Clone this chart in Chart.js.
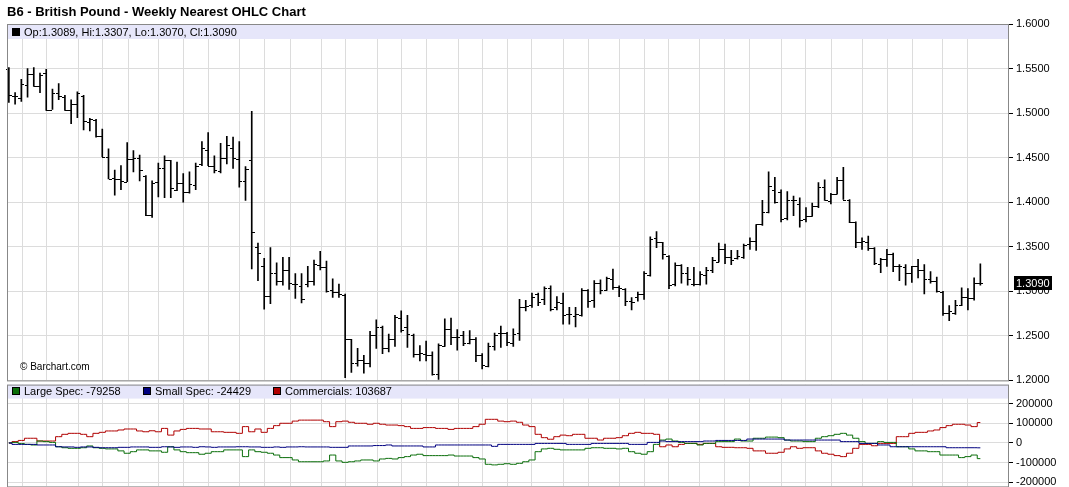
<!DOCTYPE html>
<html><head><meta charset="utf-8">
<script src="https://cdn.jsdelivr.net/npm/chart.js@4/dist/chart.umd.min.js"></script>
<style>
html,body{margin:0;padding:0;background:#fff;width:1069px;height:487px;overflow:hidden;font-family:"Liberation Sans",Arial,sans-serif}
#c1{position:absolute;left:0;top:0}
#c2{position:absolute;left:0;top:375px}
.t{position:absolute;white-space:nowrap;color:#000}
.sq{display:inline-block;width:8px;height:8px;margin-right:4px;vertical-align:0px;border:1px solid #000;box-sizing:border-box}
</style></head><body>
<canvas id="c1" width="1069" height="390"></canvas>
<canvas id="c2" width="1069" height="121"></canvas>
<div class="t" style="left:7px;top:4px;font-size:13px;font-weight:bold">B6 - British Pound - Weekly Nearest OHLC Chart</div>
<div class="t" style="left:12px;top:26px;font-size:11px"><span class="sq" style="background:#000"></span>Op:1.3089, Hi:1.3307, Lo:1.3070, Cl:1.3090</div>
<div class="t" style="left:20px;top:361px;font-size:10px">© Barchart.com</div>
<div class="t" style="left:12px;top:385px;font-size:11px"><span class="sq" style="background:#0a6e0a"></span>Large Spec: -79258</div>
<div class="t" style="left:143px;top:385px;font-size:11px"><span class="sq" style="background:#000080"></span>Small Spec: -24429</div>
<div class="t" style="left:273px;top:385px;font-size:11px"><span class="sq" style="background:#b00000"></span>Commercials: 103687</div>
<script>
const opens=[1.550,1.519,1.517,1.532,1.544,1.530,1.545,1.504,1.522,1.518,1.503,1.510,1.519,1.490,1.492,1.474,1.451,1.427,1.426,1.423,1.449,1.450,1.429,1.386,1.423,1.438,1.447,1.414,1.422,1.412,1.419,1.443,1.459,1.441,1.435,1.450,1.461,1.449,1.424,1.447,1.350,
1.328,1.295,1.321,1.312,1.324,1.308,1.306,1.308,1.312,1.330,1.327,1.301,1.299,1.296,1.246,1.219,1.223,1.219,1.251,1.260,1.236,1.247,1.270,1.260,1.251,1.230,1.230,1.228,1.207,1.239,1.258,1.249,1.251,1.242,1.247,1.228,1.216,1.239,1.253,1.253,1.242,
1.253,1.282,1.285,1.297,1.291,1.304,1.282,1.287,1.274,1.272,1.273,1.302,1.290,1.309,1.302,1.314,1.305,1.303,1.289,1.294,1.297,1.318,1.360,1.355,1.340,1.308,1.329,1.320,1.308,1.308,1.318,1.324,1.333,1.348,1.339,1.337,1.338,1.353,1.357,1.375,1.389,
1.414,1.412,1.382,1.403,1.398,1.381,1.385,1.396,1.417,1.401,1.409,1.425,1.402,1.378,1.355,1.355,1.349,1.331,1.336,1.342,1.328,1.327,1.321,1.328,1.324,1.314,1.311,1.299,1.276,1.276,1.285,1.294,1.293,1.3089];
const highs=[1.551,1.523,1.538,1.550,1.551,1.545,1.549,1.527,1.533,1.520,1.515,1.524,1.520,1.494,1.493,1.482,1.460,1.436,1.441,1.467,1.458,1.453,1.430,1.424,1.444,1.452,1.447,1.445,1.432,1.434,1.444,1.468,1.478,1.452,1.466,1.474,1.473,1.468,1.440,1.502,1.354,
1.337,1.349,1.332,1.338,1.338,1.320,1.320,1.328,1.335,1.345,1.334,1.314,1.308,1.297,1.246,1.236,1.228,1.255,1.268,1.261,1.252,1.273,1.278,1.273,1.252,1.239,1.244,1.232,1.241,1.269,1.270,1.257,1.255,1.256,1.248,1.230,1.242,1.253,1.261,1.254,1.258,
1.291,1.290,1.298,1.298,1.305,1.306,1.294,1.298,1.282,1.282,1.303,1.302,1.312,1.313,1.316,1.325,1.306,1.303,1.293,1.299,1.322,1.361,1.367,1.355,1.340,1.332,1.330,1.327,1.327,1.322,1.327,1.338,1.354,1.353,1.346,1.346,1.353,1.360,1.375,1.402,1.434,
1.428,1.414,1.412,1.407,1.405,1.394,1.399,1.422,1.425,1.410,1.428,1.439,1.403,1.378,1.360,1.362,1.349,1.337,1.347,1.343,1.330,1.330,1.328,1.336,1.330,1.322,1.316,1.300,1.284,1.290,1.304,1.303,1.315,1.3307];
const lows=[1.512,1.510,1.513,1.518,1.530,1.523,1.503,1.504,1.515,1.503,1.488,1.495,1.481,1.480,1.473,1.451,1.426,1.408,1.414,1.423,1.434,1.424,1.385,1.383,1.406,1.405,1.405,1.413,1.400,1.410,1.414,1.441,1.441,1.433,1.433,1.443,1.438,1.417,1.402,1.325,1.312,
1.280,1.286,1.307,1.307,1.302,1.292,1.287,1.305,1.307,1.324,1.299,1.293,1.293,1.203,1.209,1.216,1.208,1.215,1.236,1.230,1.232,1.238,1.254,1.237,1.226,1.222,1.222,1.206,1.201,1.238,1.240,1.234,1.239,1.241,1.221,1.213,1.215,1.234,1.237,1.239,1.238,
1.245,1.278,1.282,1.284,1.285,1.278,1.279,1.263,1.263,1.260,1.272,1.282,1.282,1.297,1.301,1.302,1.294,1.284,1.279,1.289,1.291,1.317,1.349,1.336,1.303,1.306,1.309,1.307,1.306,1.307,1.308,1.321,1.333,1.331,1.330,1.336,1.337,1.347,1.346,1.374,1.388,
1.399,1.378,1.380,1.385,1.372,1.378,1.384,1.394,1.402,1.398,1.409,1.403,1.377,1.349,1.347,1.346,1.330,1.321,1.328,1.322,1.312,1.307,1.310,1.315,1.297,1.309,1.299,1.273,1.267,1.274,1.284,1.279,1.290,1.3070];
const closes=[1.520,1.519,1.533,1.544,1.530,1.543,1.503,1.522,1.519,1.504,1.510,1.522,1.491,1.493,1.474,1.451,1.426,1.426,1.424,1.449,1.450,1.436,1.386,1.422,1.438,1.447,1.416,1.422,1.412,1.420,1.441,1.461,1.441,1.436,1.450,1.464,1.450,1.424,1.437,1.366,1.343,
1.295,1.321,1.312,1.324,1.309,1.308,1.291,1.312,1.331,1.327,1.300,1.299,1.297,1.246,1.219,1.223,1.219,1.251,1.260,1.236,1.247,1.271,1.257,1.252,1.230,1.231,1.228,1.207,1.240,1.258,1.249,1.249,1.242,1.247,1.228,1.217,1.239,1.251,1.253,1.243,1.252,
1.282,1.283,1.294,1.288,1.304,1.280,1.288,1.273,1.274,1.274,1.302,1.289,1.309,1.301,1.315,1.305,1.304,1.289,1.288,1.297,1.320,1.359,1.355,1.342,1.307,1.330,1.320,1.314,1.308,1.319,1.324,1.335,1.348,1.339,1.335,1.340,1.352,1.357,1.375,1.389,1.418,
1.400,1.381,1.403,1.403,1.380,1.384,1.396,1.417,1.403,1.409,1.425,1.403,1.378,1.355,1.356,1.349,1.332,1.336,1.342,1.328,1.328,1.321,1.328,1.324,1.314,1.312,1.300,1.276,1.278,1.285,1.294,1.293,1.309,1.3090];
// COT positions, thousands of contracts
const largeSpec=[0,3,-3,-7,-10,10,7,3,-19,-24,-27,-27,-24,-15,-24,-27,-30,-30,-40,-52,-44,-35,-35,-40,-40,-47,-19,-35,-44,-49,-49,-57,-52,-44,-44,-35,-35,-35,-69,-35,-44,-47,-52,-61,-74,-74,-86,-95,-95,-95,-95,-91,-61,
-91,-98,-95,-91,-86,-86,-91,-81,-78,-81,-74,-69,-61,-57,-64,-64,-64,-64,-61,-66,-66,-66,-74,-81,-108,-111,-108,-105,-108,-103,-95,-86,-44,-30,-27,-32,-35,-35,-35,-35,-27,-24,-24,-27,-27,-30,-27,-44,-52,-57,-44,-7,15,
20,10,3,-2,-2,-10,-2,-2,7,7,7,20,10,10,24,24,30,30,27,15,10,10,7,7,24,32,37,44,49,40,24,7,-2,-2,7,3,3,-19,-19,-30,-40,-40,-44,-44,-61,-61,-61,-74,-69,-61,-79.258];
const smallSpec=[0,-7,-7,-7,-7,-10,-10,-10,-19,-20,-20,-22,-20,-20,-22,-24,-24,-24,-22,-22,-20,-20,-20,-22,-22,-19,-20,-22,-20,-20,-22,-19,-20,-22,-20,-20,-20,-19,-19,-20,-20,-22,-22,-20,-22,-20,-20,-19,-20,-20,-20,-20,-22,
-22,-22,-15,-15,-15,-15,-13,-13,-10,-15,-15,-15,-15,-15,-20,-20,-10,-10,-10,-10,-10,-10,-10,-10,-10,-17,-7,-7,-7,-7,-7,-7,-2,-2,-2,-2,-2,-7,-7,-7,-7,-2,-2,-2,-2,-2,-2,-7,-7,-7,3,3,10,
7,7,7,7,7,7,10,10,13,13,13,13,13,20,20,20,20,20,20,15,15,15,15,15,15,15,15,15,7,7,7,-2,-2,-2,-10,-10,-19,-19,-19,-19,-19,-19,-19,-19,-19,-24,-24,-24,-24,-24,-24.429];
const commercials=[0,7,13,24,24,10,10,10,32,44,49,49,44,32,49,54,61,61,66,71,71,61,57,62,57,74,40,61,69,74,74,71,71,57,57,54,54,49,83,57,71,54,74,88,100,100,111,116,116,116,116,108,83,
108,111,105,100,100,95,100,95,91,91,88,83,74,74,78,78,74,74,69,74,74,74,83,95,120,120,111,108,111,105,91,83,44,27,19,32,40,37,44,44,24,24,15,24,24,27,37,49,54,49,49,44,-19,
-10,-19,-7,-2,-2,-7,-2,-2,-19,-22,-22,-24,-24,-27,-40,-40,-52,-52,-47,-30,-19,-27,-24,-24,-40,-52,-57,-64,-69,-52,-27,-7,-7,-14,-2,-2,-2,32,32,49,54,54,61,66,78,88,95,95,91,83,103.687];
const priceTicks=[1.20,1.25,1.30,1.35,1.40,1.45,1.50,1.55,1.60];
const cotTicks=[-200000,-100000,0,100000,200000];
const monthLines=[2.2,6.1,11.2,15.1,19.2,24.1,28.1,32.1,37.1,41.1,45.2,50.2,54.1,59.2,63.1,67.1,72.2,76.1,80.1,84.0,89.0,93.0,98.0,102.0,105.9,110.9,114.9,119.0,124.0,128.0,132.1,137.1,141.1,145.1,150.0,154.0];
const lastPrice=1.3090;

const XMIN=-0.3, XMAX=160.6;
const font={family:'"Liberation Sans", Arial, sans-serif',size:11};
const gridCol='#dcdcdc';
function xAxis(){return {type:'linear',min:XMIN,max:XMAX,offset:false,
  afterBuildTicks:s=>{s.ticks=monthLines.map(v=>({value:v}));},
  afterFit:s=>{s.height=0;},
  ticks:{display:false},grid:{color:gridCol,drawTicks:false,offset:false},border:{display:false}};}
const band=(h)=>({id:'band',beforeDatasetsDraw(c){const a=c.chartArea,x=c.ctx;x.save();x.fillStyle='#e6e6fa';x.fillRect(a.left,a.top,a.right-a.left,h);x.restore();},
  afterDraw(c){const a=c.chartArea,x=c.ctx;x.save();x.strokeStyle='#888';x.lineWidth=1;x.strokeRect(a.left+0.5,a.top+0.5,a.right-a.left-1,a.bottom-a.top);x.restore();}});

const ohlcTicks={id:'ohlc',afterDatasetsDraw(c){const xs=c.scales.x,ys=c.scales.y,x=c.ctx;x.save();x.strokeStyle='#000';x.lineWidth=1;x.beginPath();
  for(let i=0;i<opens.length;i++){const px=Math.round(xs.getPixelForValue(i));
    const yo=Math.round(ys.getPixelForValue(opens[i]))+0.5,yc=Math.round(ys.getPixelForValue(closes[i]))+0.5;
    x.moveTo(px-3,yo);x.lineTo(px,yo);x.moveTo(px,yc);x.lineTo(px+3,yc);}
  x.stroke();
  const y=Math.round(ys.getPixelForValue(lastPrice));const a=c.chartArea;
  x.fillStyle='#000';x.fillRect(a.right+5,y-7,38,14);x.fillStyle='#fff';x.font='11px "Liberation Sans", Arial';x.textBaseline='middle';x.fillText(lastPrice.toFixed(4),a.right+7,y+0.5);
  x.restore();}};

new Chart(document.getElementById('c1'),{type:'bar',
  data:{datasets:[{data:opens.map((o,i)=>({x:i,y:[lows[i],highs[i]]})),backgroundColor:'#000',borderWidth:0,barThickness:1,grouped:false}]},
  options:{responsive:false,animation:false,
    layout:{padding:{left:7,top:24,bottom:1,right:0}},
    plugins:{legend:{display:false},tooltip:{enabled:false}},
    scales:{x:xAxis(),
      y:{position:'right',min:1.2,max:1.6,
        afterBuildTicks:s=>{s.ticks=priceTicks.map(v=>({value:v}));},
        afterFit:s=>{s.width=60;},
        ticks:{font,color:'#000',padding:3,callback:v=>v.toFixed(4)},
        grid:{color:gridCol,tickLength:4,tickColor:'#000'},border:{display:false}}}},
  plugins:[band(15),ohlcTicks]});

const mk=(arr,col)=>({data:arr.map((v,i)=>({x:i,y:v*1000})),borderColor:col,borderWidth:1,pointRadius:0,stepped:'middle',fill:false});
new Chart(document.getElementById('c2'),{type:'line',
  data:{datasets:[mk(smallSpec,'#000080'),mk(largeSpec,'#0a6e0a'),mk(commercials,'#b00000')]},
  options:{responsive:false,animation:false,
    layout:{padding:{left:7,top:2,bottom:1,right:0}},
    plugins:{legend:{display:false},tooltip:{enabled:false}},
    scales:{x:xAxis(),
      y:{position:'right',min:-220000,max:296000,
        afterBuildTicks:s=>{s.ticks=cotTicks.map(v=>({value:v}));},
        afterFit:s=>{s.width=60;},
        ticks:{font,color:'#000',padding:3,callback:v=>String(v)},
        grid:{color:gridCol,tickLength:4,tickColor:'#000'},border:{display:false}}}},
  plugins:[band(14)]});
</script></body></html>
